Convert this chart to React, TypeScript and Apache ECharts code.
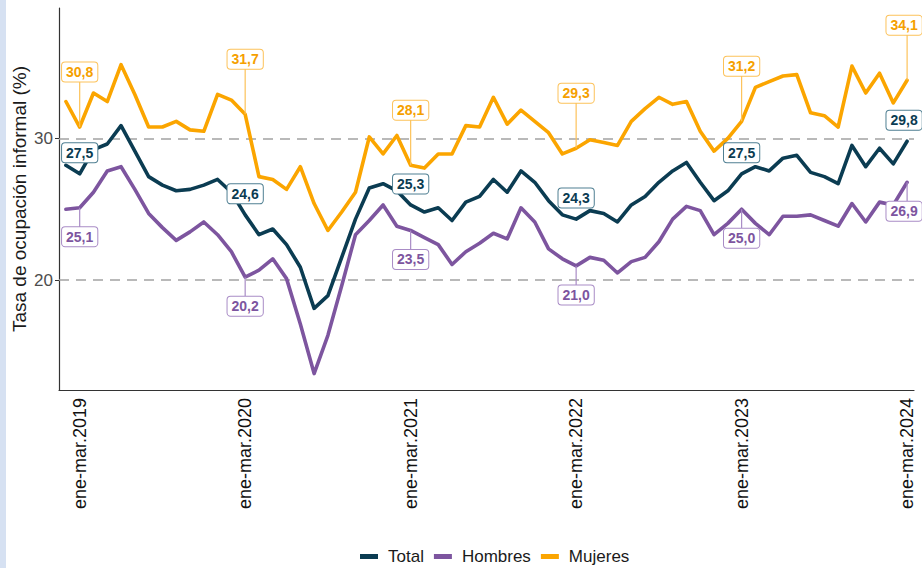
import React, { useEffect, useRef } from "react";
import * as echarts from "echarts";

const MONTHS = ["ene", "feb", "mar", "abr", "may", "jun", "jul", "ago", "sep", "oct", "nov", "dic"];

// Rolling quarters: dic-feb.2019 ... ene-mar.2024
const categories: string[] = [];
for (let i = 0; i < 62; i++) {
  const endAbs = 2019 * 12 + 1 + i;
  const year = Math.floor(endAbs / 12);
  const m = endAbs % 12;
  const s = (m + 10) % 12;
  categories.push(`${MONTHS[s]}-${MONTHS[m]}.${year}`);
}

const total = [
  28.1, 27.5, 29.2, 29.6, 30.9, 29.1, 27.3, 26.7, 26.3, 26.4, 26.7, 27.1, 26.2,
  24.6, 23.2, 23.6, 22.5, 20.9, 18.0, 18.9, 21.6, 24.3, 26.5, 26.8, 26.3,
  25.3, 24.8, 25.1, 24.2, 25.5, 25.9, 27.1, 26.2, 27.7, 26.9, 25.6, 24.6,
  24.3, 24.9, 24.7, 24.1, 25.3, 25.9, 26.9, 27.7, 28.3, 26.9, 25.6, 26.3,
  27.5, 28.0, 27.7, 28.6, 28.8, 27.6, 27.3, 26.8, 29.5, 28.0, 29.3, 28.2,
  29.8,
];

const hombres = [
  25.0, 25.1, 26.2, 27.7, 28.0, 26.4, 24.7, 23.7, 22.8, 23.4, 24.1, 23.2, 22.0,
  20.2, 20.7, 21.5, 20.1, 16.9, 13.4, 16.1, 19.6, 23.2, 24.2, 25.3, 23.8,
  23.5, 23.0, 22.5, 21.1, 22.0, 22.6, 23.3, 22.9, 25.1, 24.1, 22.2, 21.5,
  21.0, 21.6, 21.4, 20.5, 21.3, 21.6, 22.7, 24.3, 25.2, 24.9, 23.2, 24.0,
  25.0, 24.0, 23.2, 24.5, 24.5, 24.6, 24.2, 23.8, 25.4, 24.1, 25.5, 25.3,
  26.9,
];

const mujeres = [
  32.6, 30.8, 33.2, 32.6, 35.2, 33.1, 30.8, 30.8, 31.2, 30.6, 30.5, 33.1, 32.7,
  31.7, 27.3, 27.1, 26.4, 28.0, 25.4, 23.5, 24.8, 26.2, 30.1, 28.9, 30.2,
  28.1, 27.9, 28.9, 28.9, 30.9, 30.8, 32.9, 31.0, 32.0, 31.2, 30.4, 28.9,
  29.3, 29.9, 29.7, 29.5, 31.2, 32.1, 32.9, 32.4, 32.6, 30.5, 29.1, 30.0,
  31.2, 33.6, 34.0, 34.4, 34.5, 31.8, 31.6, 30.8, 35.1, 33.2, 34.6, 32.5,
  34.1,
];

const seriesNames = ["Total", "Hombres", "Mujeres"];
const yTicks = [20, 30];
const labelIdx = [1, 13, 25, 37, 49, 61];

const COLORS = ["#0b3c52", "#7d559f", "#fba500"];
const LABEL_STYLES = [
  { text: "#0b3c52", border: "#4f7f92", dy: -21, leader: false },
  { text: "#7d559f", border: "#a98cc6", dy: 29, leader: true },
  { text: "#f5a000", border: "#fcc25a", dy: -55, leader: true },
];

const FONT = '"Liberation Sans", Arial, sans-serif';

export default function App() {
  const ref = useRef<HTMLDivElement>(null);

  useEffect(() => {
    document.body.style.margin = "0";
    const chart = echarts.init(ref.current as HTMLDivElement, null, {
      renderer: "svg",
      width: 922,
      height: 568,
    });

    const all = [total, hombres, mujeres];
    const labelData: number[][] = [];
    labelIdx.forEach((i) => {
      all.forEach((arr, s) => labelData.push([i, arr[i], s]));
    });

    const option: any = {
      animation: false,
      backgroundColor: "#ffffff",
      textStyle: { fontFamily: FONT },
      graphic: [
        {
          type: "rect",
          shape: { x: 0, y: 0, width: 6, height: 568 },
          style: { fill: "#d6e1f2" },
          z: 0,
        },
      ],
      grid: { left: 59, right: 8, top: 8, bottom: 178, outerBoundsMode: "none", containLabel: false },
      legend: {
        top: 543,
        left: 355,
        data: seriesNames,
        icon: "rect",
        itemWidth: 18,
        itemHeight: 5,
        itemGap: 10,
        textStyle: { fontSize: 17, color: "#1a1a1a", fontFamily: FONT, padding: [0, 0, 0, 5] },
      },
      xAxis: {
        type: "category",
        data: categories,
        boundaryGap: true,
        axisLine: { lineStyle: { color: "#333333", width: 1.2 } },
        axisTick: {
          interval: (index: number) => index % 12 === 1,
          alignWithLabel: true,
          length: 5,
          lineStyle: { color: "#333333" },
        },
        axisLabel: {
          interval: (index: number) => index % 12 === 1,
          rotate: 90,
          margin: 8,
          fontSize: 18,
          color: "#111111",
          fontFamily: FONT,
        },
        splitLine: { show: false },
      },
      yAxis: {
        type: "value",
        min: 12.24,
        max: 39.2,
        name: "Tasa de ocupación informal (%)",
        nameLocation: "middle",
        nameRotate: 90,
        nameGap: 30,
        nameMoveOverlap: false,
        nameTextStyle: { fontSize: 19, color: "#1a1a1a", fontFamily: FONT },
        axisLine: { show: true, lineStyle: { color: "#333333", width: 1.2 } },
        axisTick: { show: true, customValues: yTicks, length: 4, lineStyle: { color: "#333333" } },
        axisLabel: { customValues: yTicks, fontSize: 17, color: "#4d4d4d", margin: 6, fontFamily: FONT },
        splitLine: { show: false },
      },
      series: [
        ...all.map((arr, s) => ({
          name: seriesNames[s],
          type: "line",
          data: arr,
          showSymbol: false,
          symbol: "none",
          color: COLORS[s],
          lineStyle: { width: 3.6, color: COLORS[s], join: "round", cap: "round" },
          z: 3,
          markLine:
            s === 0
              ? {
                  silent: true,
                  symbol: ["none", "none"],
                  label: { show: false },
                  lineStyle: { type: [10, 7], color: "#a3a3a3", width: 1.5 },
                  data: yTicks.map((v) => ({ yAxis: v })),
                  z: 1,
                }
              : undefined,
        })),
        {
          type: "custom",
          name: "labels",
          data: labelData,
          encode: { x: 0, y: 1 },
          clip: false,
          z: 10,
          silent: true,
          renderItem: (params: any, api: any) => {
            const idx = api.value(0);
            const val = api.value(1);
            const s = api.value(2);
            const pt = api.coord([idx, val]);
            const cfg = LABEL_STYLES[s];
            const lx = pt[0] + (idx === 61 ? -3 : 0);
            const ly = pt[1] + cfg.dy;
            const children: any[] = [];
            if (cfg.leader) {
              children.push({
                type: "line",
                shape: { x1: pt[0], y1: pt[1], x2: pt[0], y2: ly },
                style: { stroke: cfg.border, lineWidth: 1.2 },
              });
            }
            children.push({
              type: "text",
              style: {
                text: Number(val).toFixed(1).replace(".", ","),
                x: lx,
                y: ly,
                align: "center",
                verticalAlign: "middle",
                fill: cfg.text,
                font: `bold 14px ${FONT}`,
                backgroundColor: "#ffffff",
                borderColor: cfg.border,
                borderWidth: 1,
                borderRadius: 3,
                padding: [3, 4, 2, 4],
              },
            });
            return { type: "group", children };
          },
        },
      ],
    };

    chart.setOption(option);
    return () => chart.dispose();
  }, []);

  return <div ref={ref} style={{ width: 922, height: 568 }} />;
}
